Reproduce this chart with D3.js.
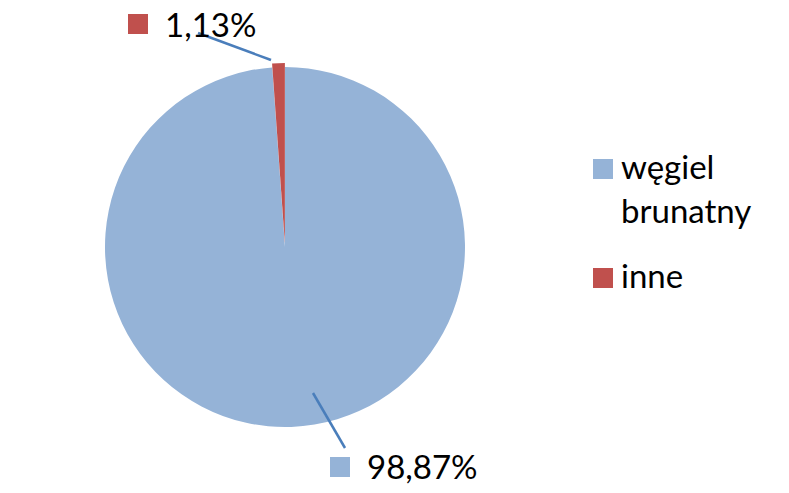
<!DOCTYPE html>
<html><head><meta charset="utf-8">
<script src="https://cdn.jsdelivr.net/npm/d3@7"></script>
<style>body{margin:0;background:#fff}svg{display:block}text{font-family:Lato,"Open Sans",sans-serif;fill:#000}</style>
</head><body><svg id="c" width="789" height="493"></svg>
<script>
const categories = ["węgiel brunatny", "inne"];
const values = [98.87, 1.13];
const valueLabels = ["98,87%", "1,13%"];
const legendLines = [["węgiel", "brunatny"], ["inne"]];
const colors = ["#95b3d7", "#c0504d"];

const svg = d3.select("#c");
const cx = 285, cy = 247, R = 180, fs = 33;
const pie = d3.pie().sort(null).value(d => d);
const arcs = pie(values);
const arc = d3.arc().innerRadius(0).outerRadius(R);
const explode = [0, 4];

const g = svg.append("g").attr("transform", `translate(${cx},${cy})`);
g.selectAll("path").data(arcs).join("path")
  .attr("d", arc)
  .attr("fill", (d, i) => colors[i])
  .attr("transform", (d, i) => {
    const a = (d.startAngle + d.endAngle) / 2;
    return `translate(${Math.sin(a) * explode[i]},${-Math.cos(a) * explode[i]})`;
  });

// data labels: [marker x, marker y, text x, baseline, leader from, leader to]
const labelLayout = [
  {mx: 330, my: 457, tx: 367, ty: 479, l: [[345, 448], [313, 393]]},
  {mx: 128, my: 14, tx: 165, ty: 37, l: [[198, 33], [271, 60]]}
];
labelLayout.forEach((p, i) => {
  svg.append("line").attr("x1", p.l[0][0]).attr("y1", p.l[0][1]).attr("x2", p.l[1][0]).attr("y2", p.l[1][1])
    .attr("stroke", "#4a7ebb").attr("stroke-width", 2.5);
  svg.append("rect").attr("x", p.mx).attr("y", p.my).attr("width", 20).attr("height", 20).attr("fill", colors[i]);
  svg.append("text").attr("x", p.tx).attr("y", p.ty).attr("font-size", fs).text(valueLabels[i]);
});

// legend
const legY = [159, 268];
categories.forEach((c, i) => {
  svg.append("rect").attr("x", 593).attr("y", legY[i]).attr("width", 20).attr("height", 20).attr("fill", colors[i]);
  const t = svg.append("text").attr("x", 621).attr("y", legY[i] + 20).attr("font-size", fs);
  legendLines[i].forEach((ln, j) => t.append("tspan").attr("x", 621).attr("dy", j ? 44 : 0).text(ln));
});
</script></body></html>
